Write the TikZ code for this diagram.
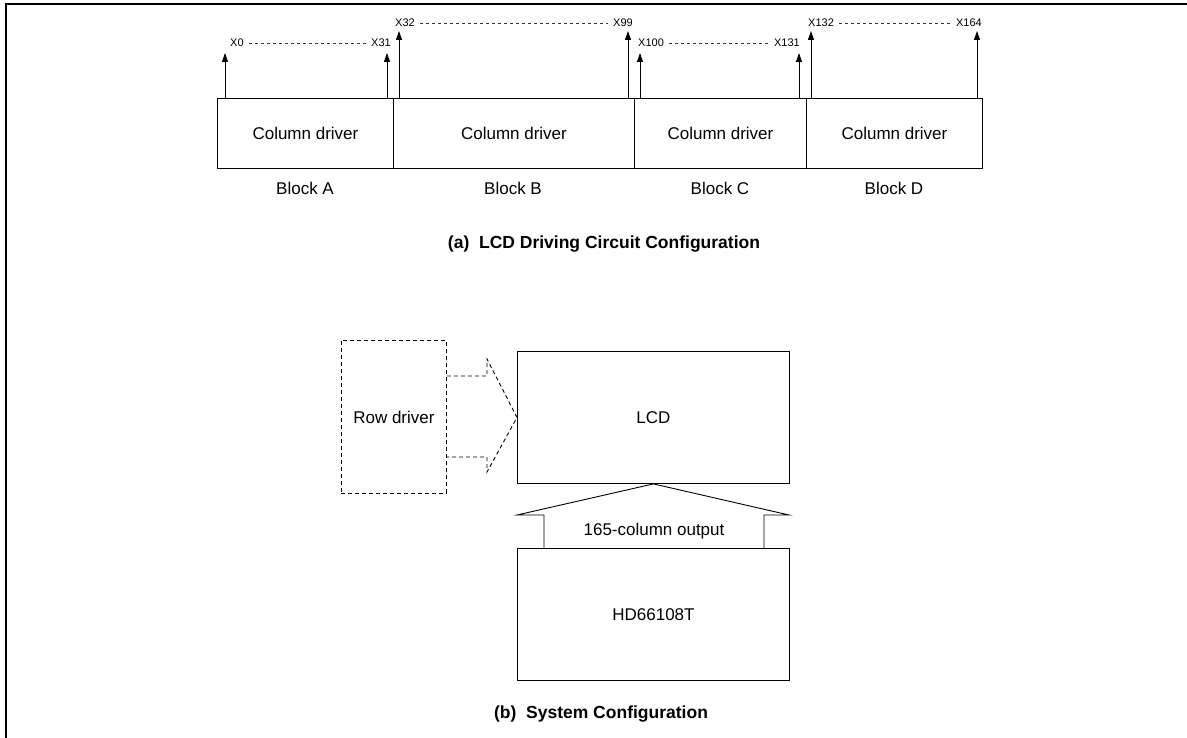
\documentclass[tikz,border=0pt]{standalone}
\usepackage{fontspec}
\setmainfont{Liberation Sans}
\usetikzlibrary{arrows.meta}
\begin{document}
\begin{tikzpicture}[x=1pt,y=-1pt,
  blk/.style={draw, line width=0.9pt, inner sep=0pt, anchor=north west, minimum height=70pt, font=\fontsize{17}{20}\selectfont},
  txt/.style={inner sep=0pt, font=\fontsize{17}{20}\selectfont},
  xl/.style={inner sep=0pt, font=\fontsize{11}{13}\selectfont},
  arr/.style={line width=0.9pt, -{Triangle[length=9pt,width=6pt]}},
  dsh/.style={line width=0.5pt, dash pattern=on 3pt off 3pt, draw=black!80},
  ttl/.style={inner sep=0pt, font=\fontsize{17.5}{20}\selectfont\bfseries},
  bx/.style={draw, line width=0.9pt, inner sep=0pt, anchor=north west, font=\fontsize{17}{20}\selectfont},
  ddsh/.style={line width=0.9pt, dash pattern=on 4pt off 3pt}
]
\useasboundingbox (0,0) rectangle (1187,738);
\draw[line width=2.2pt] (6,738) -- (6,4) -- (1187,4);

% column drivers
\node[blk, minimum width=176pt] (A) at (217,98) {Column driver};
\node[blk, minimum width=241pt] (B) at (393,98) {Column driver};
\node[blk, minimum width=172pt] (C) at (634,98) {Column driver};
\node[blk, minimum width=176pt] (D) at (806,98) {Column driver};

\node[txt] (la) at (305,188) {Block A};
\node[txt] (lb) at (513,188) {Block B};
\node[txt] (lc) at (720,188) {Block C};
\node[txt] (ld) at (894,188) {Block D};

% arrows
\coordinate (t0) at (225,53);   \coordinate (t31) at (387,53);
\coordinate (t32) at (399,31);  \coordinate (t99) at (628,31);
\coordinate (t100) at (640,53); \coordinate (t131) at (799,53);
\coordinate (t132) at (811,31); \coordinate (t164) at (977,31);
\draw[arr] (A.north west -| t0) -- (t0);
\draw[arr] (A.north west -| t31) -- (t31);
\draw[arr] (B.north west -| t32) -- (t32);
\draw[arr] (B.north west -| t99) -- (t99);
\draw[arr] (C.north west -| t100) -- (t100);
\draw[arr] (C.north west -| t131) -- (t131);
\draw[arr] (D.north west -| t132) -- (t132);
\draw[arr] (D.north west -| t164) -- (t164);

% labels
\node[xl, anchor=west] (x0) at (230,43) {X0};
\node[xl, anchor=east] (x31) at (391,43) {X31};
\node[xl, anchor=west] (x32) at (395,23) {X32};
\node[xl, anchor=east] (x99) at (633,23) {X99};
\node[xl, anchor=west] (x100) at (638,43) {X100};
\node[xl, anchor=east] (x131) at (800,43) {X131};
\node[xl, anchor=west] (x132) at (808,23) {X132};
\node[xl, anchor=east] (x164) at (982,23) {X164};
\draw[dsh] ([xshift=5pt]x0.east) -- ([xshift=-5pt]x31.west);
\draw[dsh] ([xshift=5pt]x32.east) -- ([xshift=-5pt]x99.west);
\draw[dsh] ([xshift=5pt]x100.east) -- ([xshift=-5pt]x131.west);
\draw[dsh] ([xshift=5pt]x132.east) -- ([xshift=-5pt]x164.west);

\node[ttl] (ta) at (604,244) {(a)\ \ LCD Driving Circuit Configuration};

% system configuration
\node[bx, ddsh, minimum width=105pt, minimum height=153pt] (RD) at (341,340) {Row driver};
\node[bx, minimum width=272pt, minimum height=132pt] (LCD) at (517,351) {LCD};
\node[bx, minimum width=272pt, minimum height=132pt] (HD) at (517,548) {HD66108T};

\draw[ddsh] (RD.east |- 0,376) -- (487,376) -- (487,359) -- (LCD.west) -- (487,472) -- (487,457) -- (RD.east |- 0,457);

\draw[line width=0.9pt] (HD.north west -| 544,0) -- (544,515) -- (517,515) -- (LCD.south)
  -- (789,515) -- (764,515) -- (HD.north west -| 764,0);
\node[txt] (out) at (654,531) {165-column output};

\node[ttl] (tb) at (601,714) {(b)\ \ System Configuration};
\end{tikzpicture}
\end{document}
